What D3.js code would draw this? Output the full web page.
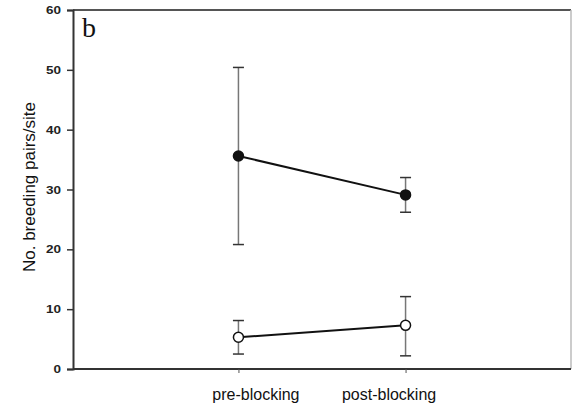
<!DOCTYPE html>
<html>
<head>
<meta charset="utf-8">
<script src="https://cdn.jsdelivr.net/npm/d3@7"></script>
<style>
  body { margin: 0; background: #fff; }
  svg { display: block; }
</style>
</head>
<body>
<svg id="chart" width="572" height="407"></svg>
<script>
// Values
const categories = ["pre-blocking", "post-blocking"];
const yTicks = [0, 10, 20, 30, 40, 50, 60];

// filled circles
const filledMean = [35.6, 29.1];
const filledLow = [20.8, 26.2];
const filledHigh = [50.4, 32.0];

// open circles
const openMean = [5.3, 7.3];
const openLow = [2.5, 2.2];
const openHigh = [8.1, 12.1];

const svg = d3.select("#chart");
const plotLeft = 73, plotRight = 571, plotTop = 10, plotBottom = 369;

const x = d3.scalePoint()
    .domain(categories)
    .range([plotLeft, plotRight])
    .padding(0.99);

const y = d3.scaleLinear()
    .domain([0, 60])
    .range([plotBottom, plotTop]);

// frame top and right
svg.append("line")
    .attr("x1", plotLeft).attr("x2", plotRight)
    .attr("y1", plotTop).attr("y2", plotTop)
    .attr("stroke", "#555").attr("stroke-width", 2);
svg.append("line")
    .attr("x1", plotRight).attr("x2", plotRight)
    .attr("y1", plotTop).attr("y2", plotBottom)
    .attr("stroke", "#bbb").attr("stroke-width", 1.5);

// y axis
const yAxis = svg.append("g")
    .attr("transform", `translate(${plotLeft},0)`)
    .call(d3.axisLeft(y).tickValues(yTicks).tickSize(6).tickPadding(6));
yAxis.select(".domain").attr("stroke", "#333").attr("stroke-width", 2);
yAxis.selectAll(".tick line").attr("stroke", "#333").attr("stroke-width", 1.5);
yAxis.selectAll(".tick text")
    .attr("font-family", "Arial, 'Liberation Sans', sans-serif")
    .attr("font-size", 11).attr("font-weight", "bold").attr("fill", "#222")
    .attr("textLength", d => String(d).length * 7.5)
    .attr("lengthAdjust", "spacingAndGlyphs");

// x axis
const xAxis = svg.append("g")
    .attr("transform", `translate(0,${plotBottom})`)
    .call(d3.axisBottom(x).tickSize(4).tickPadding(16));
xAxis.select(".domain").attr("stroke", "#333").attr("stroke-width", 2)
    .attr("d", `M${plotLeft},0H${plotRight}`);
xAxis.selectAll(".tick line").attr("stroke", "#555").attr("stroke-width", 1);
// labels sit a little inward of their ticks in the original
xAxis.selectAll(".tick text")
    .attr("font-family", "Arial, 'Liberation Sans', sans-serif")
    .attr("font-size", 16).attr("fill", "#111")
    .attr("dx", (d, i) => i === 0 ? 17 : -17);

// y label
svg.append("text")
    .attr("transform", "translate(35,187) rotate(-90)")
    .attr("text-anchor", "middle")
    .attr("font-family", "Arial, 'Liberation Sans', sans-serif")
    .attr("font-size", 17).attr("fill", "#111")
    .text("No. breeding pairs/site");

// panel letter
svg.append("text")
    .attr("x", 82).attr("y", 37)
    .attr("font-family", "'Liberation Serif', 'DejaVu Serif', serif")
    .attr("font-size", 28).attr("fill", "#111")
    .text("b");

function drawSeries(mean, low, high, fill) {
    const g = svg.append("g");
    categories.forEach((c, i) => {
        const cx = x(c);
        g.append("line")
            .attr("x1", cx).attr("x2", cx)
            .attr("y1", y(low[i])).attr("y2", y(high[i]))
            .attr("stroke", "#777").attr("stroke-width", 1.5);
        [low[i], high[i]].forEach(v => {
            g.append("line")
                .attr("x1", cx - 5.5).attr("x2", cx + 5.5)
                .attr("y1", y(v)).attr("y2", y(v))
                .attr("stroke", "#333").attr("stroke-width", 1.5);
        });
    });
    const line = d3.line()
        .x((d, i) => x(categories[i]))
        .y(d => y(d));
    g.append("path")
        .datum(mean)
        .attr("d", line)
        .attr("fill", "none")
        .attr("stroke", "#111").attr("stroke-width", 2);
    g.selectAll("circle")
        .data(mean)
        .join("circle")
        .attr("cx", (d, i) => x(categories[i]))
        .attr("cy", d => y(d))
        .attr("r", 5)
        .attr("fill", fill)
        .attr("stroke", "#111").attr("stroke-width", 1.5);
}

drawSeries(filledMean, filledLow, filledHigh, "#111");
drawSeries(openMean, openLow, openHigh, "#fff");
</script>
</body>
</html>
